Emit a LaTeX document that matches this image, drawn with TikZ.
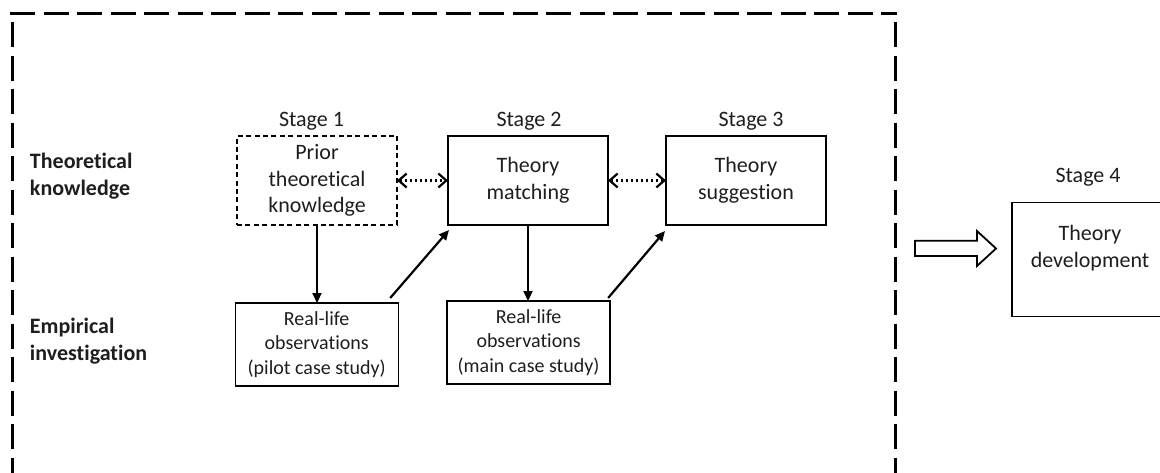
\documentclass[tikz,border=0pt]{standalone}
\usepackage{fontspec}
\setmainfont{Carlito}[Ligatures=NoCommon]
\usetikzlibrary{arrows.meta}
\definecolor{ink}{HTML}{1E1E1E}
\begin{document}
\begin{tikzpicture}[x=1pt,y=-1pt,
  every node/.style={inner sep=0pt, outer sep=0pt, text=ink},
  big/.style={font=\fontsize{22}{26.8}\selectfont},
  small/.style={font=\fontsize{20}{24.2}\selectfont},
  rowlabel/.style={font=\fontsize{22}{26.8}\selectfont\bfseries, align=left, anchor=west},
  stagelabel/.style={big, anchor=base},
  stagebox/.style={draw, line width=1.3pt, minimum width=160pt, minimum height=89pt, align=center, big},
  obsbox/.style={draw, line width=1.3pt, minimum width=163pt, minimum height=83pt, align=center, small},
  frame/.style={line width=3pt, dash pattern=on 25pt off 8.5pt},
  flow/.style={line width=2.2pt, -{Triangle[length=10pt,width=9pt]}},
  link/.style={line width=2.4pt, dash pattern=on 2.4pt off 2.6pt,
    {Straight Barb[length=8pt,width=14pt,line width=2.2pt]}-{Straight Barb[length=8pt,width=14pt,line width=2.2pt]}}
]
\useasboundingbox (0,0) rectangle (1160,472);

% dashed enclosure
\draw[frame] (10,13) -- (897,13);
\draw[frame] (12,22) -- (12,480);
\draw[frame] (895,22) -- (895,480);

% row labels
\node[rowlabel] (tk) at (30,176) {Theoretical\\knowledge};
\node[rowlabel] (ei) at (30,341) {Empirical\\investigation};

% stage boxes
\node[stagebox, dash pattern=on 5pt off 3.4pt] (s1) at (317,180.5) {Prior\\theoretical\\knowledge};
\node[stagebox] (s2) at (528,180.5) {Theory\\matching};
\node[stagebox] (s3) at (746,180.5) {Theory\\suggestion};

% stage labels
\node[stagelabel] (l1) at (311.5,126) {Stage 1};
\node[stagelabel] (l2) at (529,126) {Stage 2};
\node[stagelabel] (l3) at (751,126) {Stage 3};
\node[stagelabel] (l4) at (1088,182.7) {Stage 4};

% observation boxes
\node[obsbox] (p) at (316.7,344.5) {Real-life\\observations\\(pilot case study)};
\node[obsbox] (m) at (528.6,342.5) {Real-life\\observations\\(main case study)};

% stage 4
\node[draw, line width=1.3pt, minimum width=156pt, minimum height=114pt] (s4) at (1090,259.7) {};
\node[big, align=center] (s4t) at (1090,248) {Theory\\development};

% connectors
\draw[link] (s1.east) -- (s2.west);
\draw[link] (s2.west -| s2.east) -- (s3.west);
\draw[flow] (s1.south) -- (s1.south |- p.north);
\draw[flow] (s2.south) -- (s2.south |- m.north);
\draw[flow] ([xshift=-8pt,yshift=5pt]p.north east) -- ([xshift=1pt,yshift=-5pt]s2.south west);
\draw[flow] ([xshift=-2pt,yshift=3pt]m.north east) -- ([xshift=-1pt,yshift=-6pt]s3.south west);

% block arrow towards stage 4
\draw[line width=1.8pt, line join=miter]
  (915,240.7) -- (977,240.7) -- (977,231) -- (996,248.5) -- (977,266) -- (977,256) -- (915,256) -- cycle;
\end{tikzpicture}
\end{document}
